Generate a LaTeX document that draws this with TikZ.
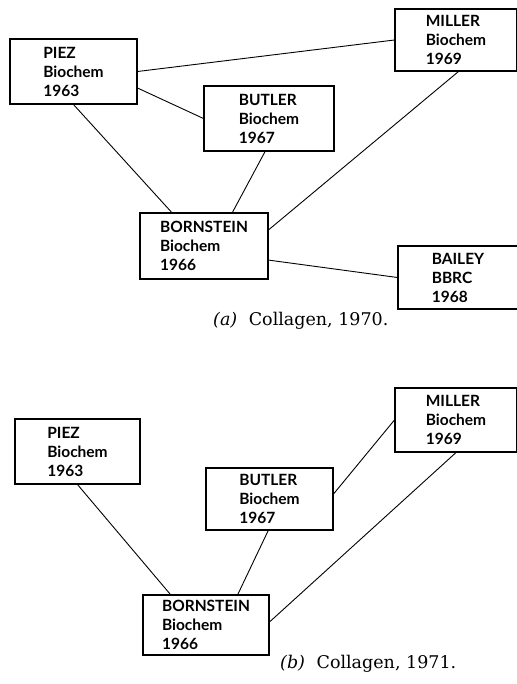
\documentclass[tikz,border=0pt]{standalone}
\usepackage{fontspec}
\setmainfont{DejaVu Serif}
\newfontfamily\boxfont{Lato}
\usetikzlibrary{calc}
\tikzset{
  entry/.style={draw, line width=1.1pt, align=left, inner sep=0pt,
    font=\boxfont\bfseries\fontsize{15.5}{19}\selectfont},
  link/.style={line width=0.9pt},
  caption/.style={font=\fontsize{17.5}{20}\selectfont, anchor=base west, inner sep=0pt}
}
\begin{document}
\begin{tikzpicture}[x=1pt,y=-1pt]
\useasboundingbox (0,0) rectangle (516,684);
% (a)
\node[entry, minimum width=127pt, minimum height=65pt] (piezA) at (73.5,71.5) {PIEZ\\Biochem\\1963};
\node[entry, minimum width=130pt, minimum height=65pt] (butlerA) at (269,118.5) {BUTLER\\Biochem\\1967};
\node[entry, minimum width=122pt, minimum height=62pt] (millerA) at (456,40) {MILLER\\Biochem\\1969};
\node[entry, minimum width=128pt, minimum height=66pt] (bornA) at (204,246) {BORNSTEIN\\Biochem\\1966};
\node[entry, minimum width=120pt, minimum height=63pt] (baileyA) at (458,277.5) {BAILEY\\BBRC\\1968};
\node[caption] (capA) at (213,325) {\textit{(a)}\hspace{6pt} Collagen, 1970.};
\draw[link] (piezA.east) -- (millerA.west);
\draw[link] ($(piezA.north east)!0.75!(piezA.south east)$) -- (butlerA.west);
\draw[link] (piezA.south) -- ($(bornA.north west)!0.25!(bornA.north east)$);
\draw[link] ($(butlerA.south west)!0.47!(butlerA.south east)$) -- ($(bornA.north west)!0.72!(bornA.north east)$);
\draw[link] ($(millerA.south west)!0.52!(millerA.south east)$) -- ($(bornA.north east)!0.26!(bornA.south east)$);
\draw[link] ($(bornA.north east)!0.71!(bornA.south east)$) -- (baileyA.west);
% (b)
\node[entry, minimum width=125pt, minimum height=65pt] (piezB) at (77.5,451.5) {PIEZ\\Biochem\\1963};
\node[entry, minimum width=127pt, minimum height=62pt] (butlerB) at (269.5,499) {BUTLER\\Biochem\\1967};
\node[entry, minimum width=122pt, minimum height=64pt] (millerB) at (456,420) {MILLER\\Biochem\\1969};
\node[entry, minimum width=126pt, minimum height=60pt] (bornB) at (206,625) {BORNSTEIN\\Biochem\\1966};
\node[caption] (capB) at (280,668) {\textit{(b)}\hspace{6pt} Collagen, 1971.};
\draw[link] (piezB.south) -- ($(bornB.north west)!0.22!(bornB.north east)$);
\draw[link] ($(butlerB.south west)!0.49!(butlerB.south east)$) -- ($(bornB.north west)!0.75!(bornB.north east)$);
\draw[link] ($(butlerB.north east)!0.42!(butlerB.south east)$) -- (millerB.west);
\draw[link] ($(millerB.south west)!0.50!(millerB.south east)$) -- ($(bornB.north east)!0.45!(bornB.south east)$);
\end{tikzpicture}
\end{document}
